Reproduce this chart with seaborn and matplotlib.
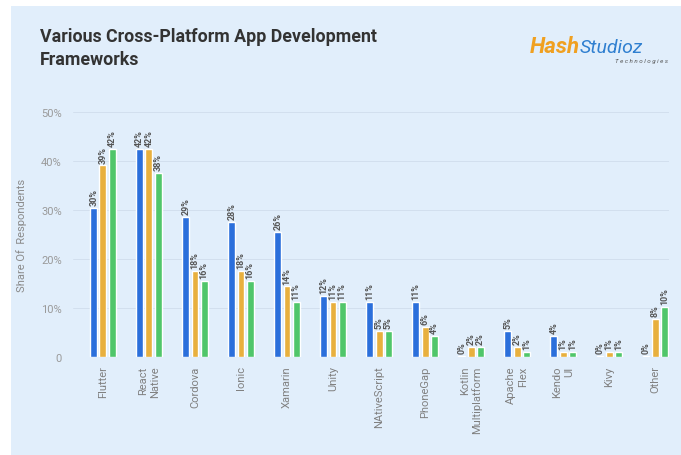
import matplotlib
matplotlib.use("Agg")
import matplotlib.pyplot as plt
import seaborn as sns
import pandas as pd
from matplotlib.patches import Rectangle
from matplotlib.ticker import FuncFormatter

frameworks = ["Flutter", "React\nNative", "Cordova", "Ionic", "Xamarin", "Unity",
              "NAtiveScript", "PhoneGap", "Kotlin\nMultiplatform", "Apache\nFlex",
              "Kendo\nUI", "Kivy", "Other"]
years = ["2019", "2020", "2021"]
share_2019 = [30.4, 42.4, 28.6, 27.6, 25.6, 12.4, 11.3, 11.3, 0.3, 5.3, 4.3, 0.3, 0.3]
share_2020 = [39.1, 42.4, 17.6, 17.6, 14.4, 11.3, 5.3, 6.2, 2.1, 2.1, 1.0, 1.0, 7.8]
share_2021 = [42.4, 37.6, 15.6, 15.6, 11.3, 11.3, 5.3, 4.3, 2.1, 1.0, 1.0, 1.0, 10.2]
yticks = [0, 10, 20, 30, 40, 50]

colors = ["#2b6fdb", "#e8b03e", "#50c66a"]
bg = "#e1eefb"

rows = []
for yr, vals in zip(years, [share_2019, share_2020, share_2021]):
    for f, v in zip(frameworks, vals):
        rows.append({"framework": f, "year": yr, "share": v})
df = pd.DataFrame(rows)

sns.set_theme(style="white")
plt.rcParams["font.family"] = ["Roboto", "DejaVu Sans"]

fig = plt.figure(figsize=(6.81, 4.56), dpi=100)
fig.patch.set_facecolor("white")
fig.patches.append(Rectangle((11 / 681, 0), 1, 1 - 7 / 456, transform=fig.transFigure,
                             facecolor=bg, edgecolor="none", zorder=-10))

ax = fig.add_axes([73 / 681, 98 / 456, 596 / 681, 245 / 456])
ax.set_facecolor(bg)
sns.barplot(data=df, x="framework", y="share", hue="year", palette=colors,
            width=0.6, gap=0.25, saturation=1, legend=False, ax=ax)

for cont, vals in zip(ax.containers, [share_2019, share_2020, share_2021]):
    ax.bar_label(cont, labels=[f"{round(v):.0f}%" for v in vals], rotation=90,
                 padding=2, fontsize=6.5, fontweight="bold", color="#555555")

ax.set_ylim(0, 50)
ax.set_xlim(-0.65, 12.3)
ax.set_yticks(yticks)
ax.yaxis.set_major_formatter(FuncFormatter(lambda v, p: "0" if v == 0 else f"{v:.0f}%"))
ax.grid(axis="y", color="#d2dfee", linewidth=0.7)
ax.set_axisbelow(True)
for s in ax.spines.values():
    s.set_visible(False)
ax.tick_params(axis="y", colors="#9a9a9a", labelsize=8, length=0, pad=8)
ax.tick_params(axis="x", colors="#808080", labelsize=8, length=0, pad=6)
for lab in ax.get_xticklabels():
    lab.set_rotation(90)
    lab.set_multialignment("right")
    lab.set_va("top")
    lab.set_ha("center")
ax.set_xlabel("")
ax.set_ylabel("Share Of  Respondents", color="#8a8a8a", fontsize=8, labelpad=10)

fig.text(40 / 681, 1 - 28 / 456, "Various Cross-Platform App Development\nFrameworks",
         fontsize=12.8, fontweight="bold", color="#333333", va="top", ha="left",
         linespacing=1.35)

# logo
fig.text(530 / 681, 1 - 47 / 456, "Hash", fontsize=16, fontstyle="italic", fontweight="bold",
         color="#f0a020", va="center", ha="left")
fig.text(580 / 681, 1 - 48 / 456, "Studioz", fontsize=14, fontstyle="italic",
         color="#2f7fd0", va="center", ha="left")
fig.text(668 / 681, 1 - 62 / 456, "T e c h n o l o g i e s", fontsize=4.5, fontstyle="italic",
         color="#555555", va="center", ha="right")

fig.savefig("out.png", dpi=100, facecolor="white")
